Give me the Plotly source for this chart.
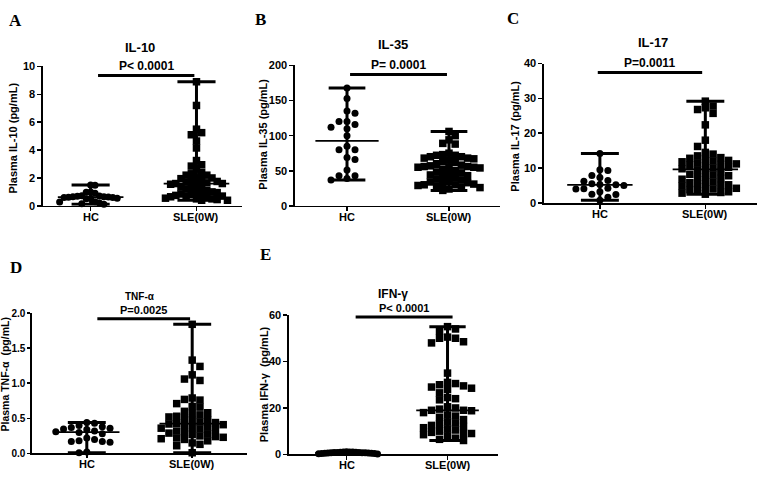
import numpy as np
import plotly.graph_objects as go

W, H = 759, 477

groups = ["HC", "SLE(0W)"]

il10_hc = [1.5, 1.48, 1.0, 0.97, 0.9, 0.72, 0.7, 0.68, 0.66, 0.65, 0.63, 0.62, 0.6, 0.6, 0.55,
           0.52, 0.5, 0.3, 0.28, 0.2, 0.15, 0.12]
il10_sle = [8.9, 7.2, 5.5, 5.25, 5.1, 4.65, 4.15, 3.25, 2.95, 2.85, 2.65, 2.4, 2.3, 2.2, 2.2, 2.0,
            2.0, 1.95, 1.9, 1.8, 1.75, 1.7, 1.65, 1.6, 1.6, 1.55, 1.5, 1.4, 1.35, 1.3, 1.2, 1.1,
            1.0, 1.0, 0.95, 0.9, 0.85, 0.8, 0.75, 0.7, 0.7, 0.65, 0.6, 0.55, 0.5, 0.5, 0.45, 0.4, 0.4]

il35_hc = [168, 153, 135, 132, 120, 120, 116, 112, 110, 100, 85, 80, 80, 69, 66, 51, 43, 43, 39, 37]
il35_sle = [106, 100, 94, 89, 88, 75, 73, 72, 72, 70, 70, 68, 68, 67, 65, 63, 62, 60, 58, 57,
            56, 56, 55, 55, 55, 54, 52, 50, 48, 47, 45, 44, 43, 42, 40, 38, 37, 35, 34, 33,
            32, 31, 30, 30, 29, 28, 27, 26, 24, 22]

il17_hc = [14.2, 9.5, 9.3, 7.9, 7.3, 6.4, 6.2, 5.5, 5.3, 5.2, 5.0, 4.2, 4.1, 4.0, 3.2, 2.5, 2.4,
           1.6, 0.8]
il17_sle = [29.2, 27.8, 27.3, 26.8, 25.7, 22.4, 18.0, 16.2, 14.5, 14.0, 13.5, 13.0, 12.8, 12.5,
            12.2, 12.0, 11.8, 11.5, 11.2, 11.0, 10.8, 10.5, 10.2, 10.0, 9.8, 9.5, 9.0, 8.5, 8.2,
            8.0, 7.8, 7.5, 7.0, 6.8, 6.5, 6.0, 5.8, 5.5, 5.2, 5.0, 4.8, 4.5, 4.2, 4.0, 3.8, 3.5,
            3.2, 3.0, 2.8, 2.5]

tnf_hc = [0.44, 0.43, 0.40, 0.38, 0.37, 0.36, 0.35, 0.34, 0.32, 0.31, 0.30, 0.28, 0.22, 0.20,
          0.18, 0.17, 0.17, 0.16, 0.02, 0.01]
tnf_sle = [1.84, 1.33, 1.24, 1.12, 1.06, 1.04, 0.79, 0.77, 0.76, 0.71, 0.67, 0.66, 0.60, 0.58,
           0.57, 0.55, 0.53, 0.52, 0.50, 0.48, 0.47, 0.45, 0.44, 0.43, 0.42, 0.41, 0.40, 0.38,
           0.37, 0.36, 0.35, 0.34, 0.32, 0.30, 0.29, 0.28, 0.27, 0.25, 0.24, 0.23, 0.22, 0.21,
           0.20, 0.18, 0.15, 0.13, 0.11, 0.01]

ifn_hc = [1.2, 1.1, 1.0, 1.0, 0.9, 0.9, 0.8, 0.8, 0.8, 0.7, 0.7, 0.7, 0.6, 0.6, 0.5, 0.5, 0.4,
          0.4, 0.3, 0.2]
ifn_sle = [55, 54, 53, 50.5, 50, 50, 48.5, 48, 35, 31, 30.5, 30, 29.5, 29, 28.5, 28, 26.5, 24.5,
           24, 23.5, 20.5, 20, 19.5, 19, 19, 18.8, 18, 17, 16.5, 16, 15, 14, 13.5, 13, 12.5, 12,
           11.5, 11, 10.5, 10, 9.5, 9, 9, 8.5, 8, 7, 6.5, 6]

p_texts = ["P< 0.0001", "P= 0.0001", "P=0.0011", "P=0.0025", "P< 0.0001"]
titles = ["IL-10", "IL-35", "IL-17", "TNF-α", "IFN-γ"]
ytitles = ["Plasma IL-10 (pg/mL)", "Plasma IL-35 (pg/mL)", "Plasma IL-17 (pg/mL)",
           "Plasma TNF-α  (pg/mL)", "Plasma IFN-γ  (pg/mL)"]
letters = ["A", "B", "C", "D", "E"]
y_ranges = [(0, 10), (0, 200), (0, 40), (0, 2), (0, 60)]
y_dticks = [2, 50, 10, 0.5, 20]
y_formats = ["d", "d", "d", ".1f", "d"]
sig_levels = [9.35, 187, 37.4, 1.92, 59.2]

data = [(il10_hc, il10_sle), (il35_hc, il35_sle), (il17_hc, il17_sle),
        (tnf_hc, tnf_sle), (ifn_hc, ifn_sle)]

# layout (pixel geometry of each panel)
geo = [
    dict(xpx=(43, 242), ypx=(62, 205), xr=(-0.45, 1.43), title=(140, 43, 13), letter=(15, 15),
         ytit=(13, 136), sigx=(0.07, 0.98), pfs=12, tfs=11, tl=4),
    dict(xpx=(295, 500), ypx=(61, 205), xr=(-0.51, 1.50), title=(393, 40, 13), letter=(260, 14),
         ytit=(263, 132), sigx=(0.03, 0.98), pfs=12, tfs=11, tl=4),
    dict(xpx=(544, 757), ypx=(59, 202), xr=(-0.53, 1.49), title=(653, 37, 13), letter=(513, 13),
         ytit=(515, 134), sigx=(-0.02, 0.97), pfs=12, tfs=11, tl=4),
    dict(xpx=(32, 247), ypx=(315, 459), xr=(-0.52, 1.52), title=(140, 298, 10), letter=(16, 268),
         ytit=(5, 378), sigx=(0.10, 0.98), pfs=11, tfs=10, tl=3),
    dict(xpx=(289, 498), ypx=(317, 460), xr=(-0.57, 1.50), title=(393, 295, 12), letter=(265, 255),
         ytit=(264, 388), sigx=(0.09, 1.05), pfs=11, tfs=11, tl=4),
]


def swarm(vals, upx, D=6.5, step=8.0, maxhalf=31.0):
    vals = np.asarray(vals, float)
    order = np.argsort(-vals)
    placed = []
    cols = np.zeros(len(vals))
    toggle = 1
    for i in order:
        y = vals[i] * upx
        k = 0
        chosen = None
        while chosen is None:
            cands = [0] if k == 0 else [toggle * k, -toggle * k]
            for c in cands:
                if all(not (pc == c and abs(py - y) < D) for pc, py in placed):
                    chosen = c
                    break
            k += 1
        if chosen != 0:
            toggle = -toggle
        placed.append((chosen, y))
        cols[i] = chosen
    m = np.max(np.abs(cols)) if len(cols) else 0
    s = step
    if m * step > maxhalf:
        s = maxhalf / m
    return cols * s


fig = go.Figure()
annotations = []
shapes = []
layout_axes = {}
font_main = "Liberation Sans"

for p in range(5):
    g = geo[p]
    xa = "x" if p == 0 else f"x{p+1}"
    ya = "y" if p == 0 else f"y{p+1}"
    xkey = "xaxis" if p == 0 else f"xaxis{p+1}"
    ykey = "yaxis" if p == 0 else f"yaxis{p+1}"
    x0, x1 = g["xpx"]
    yt, yb = g["ypx"]
    xr = g["xr"]
    yr = y_ranges[p]
    xupx = (x1 - x0) / (xr[1] - xr[0])
    yupx = (yb - yt) / (yr[1] - yr[0])

    for gi, vals in enumerate(data[p]):
        offs = swarm(vals, yupx) / xupx
        xs = gi + offs
        sym = "circle" if gi == 0 else "square"
        fig.add_trace(go.Scatter(
            x=xs, y=vals, mode="markers", xaxis=xa, yaxis=ya, showlegend=False,
            cliponaxis=False, hoverinfo="skip",
            marker=dict(symbol=sym, size=7 if gi == 0 else 7.5, color="black",
                        line=dict(width=0))))
        vmin, vmax, vmed = float(np.min(vals)), float(np.max(vals)), float(np.median(vals))
        cap = 0.18
        med = 0.31
        fig.add_trace(go.Scatter(
            x=[gi, gi, None, gi - cap, gi + cap, None, gi - cap, gi + cap],
            y=[vmin, vmax, None, vmax, vmax, None, vmin, vmin],
            mode="lines", xaxis=xa, yaxis=ya, showlegend=False, cliponaxis=False,
            hoverinfo="skip", line=dict(color="black", width=3)))
        fig.add_trace(go.Scatter(
            x=[gi - med, gi + med], y=[vmed, vmed], mode="lines", xaxis=xa, yaxis=ya,
            showlegend=False, cliponaxis=False, hoverinfo="skip",
            line=dict(color="black", width=1.8)))
        annotations.append(dict(xref=xa, yref="paper", x=gi, y=1 - yb / H,
                                xanchor="center", yanchor="top", yshift=-3, showarrow=False,
                                text="<b>" + groups[gi] + "</b>",
                                font=dict(family=font_main, size=11, color="black")))

    sx0, sx1 = g["sigx"]
    shapes.append(dict(type="line", xref=xa, yref=ya, x0=sx0, x1=sx1,
                       y0=sig_levels[p], y1=sig_levels[p],
                       line=dict(color="black", width=3)))
    annotations.append(dict(xref=xa, yref=ya, x=(sx0 + sx1) / 2, y=sig_levels[p],
                            yanchor="bottom", yshift=1, showarrow=False,
                            text="<b>" + p_texts[p] + "</b>",
                            font=dict(family=font_main, size=g["pfs"], color="black")))
    tx, ty, ts = g["title"]
    annotations.append(dict(xref="paper", yref="paper", x=tx / W, y=1 - ty / H,
                            xanchor="center", yanchor="middle", showarrow=False,
                            text="<b>" + titles[p] + "</b>",
                            font=dict(family=font_main, size=ts, color="black")))
    lx, ly = g["letter"]
    annotations.append(dict(xref="paper", yref="paper", x=lx / W, y=1 - ly / H,
                            xanchor="center", yanchor="middle", showarrow=False,
                            text="<b>" + letters[p] + "</b>",
                            font=dict(family="Liberation Serif", size=17, color="black")))
    ytx, yty = g["ytit"]
    annotations.append(dict(xref="paper", yref="paper", x=ytx / W, y=1 - yty / H,
                            xanchor="center", yanchor="middle", showarrow=False, textangle=-90,
                            text="<b>" + ytitles[p] + "</b>",
                            font=dict(family=font_main, size=10.5 if p == 3 else 11,
                                      color="black")))

    axis_common = dict(showline=True, linecolor="black", linewidth=1.6, ticks="outside",
                       ticklen=g["tl"], tickwidth=1.6, tickcolor="black", showgrid=False,
                       zeroline=False, tickfont=dict(family=font_main, size=g["tfs"],
                                                     color="black", weight="bold"))
    layout_axes[xkey] = dict(domain=[x0 / W, x1 / W], range=list(xr), anchor=ya,
                             tickmode="array", tickvals=[0, 1], showticklabels=False,
                             **axis_common)
    layout_axes[ykey] = dict(domain=[1 - yb / H, 1 - yt / H], range=list(yr), anchor=xa,
                             dtick=y_dticks[p], tick0=0, tickformat=y_formats[p],
                             **axis_common)

fig.update_layout(width=W, height=H, margin=dict(l=0, r=0, t=0, b=0),
                  plot_bgcolor="white", paper_bgcolor="white", hovermode=False,
                  annotations=annotations, shapes=shapes, **layout_axes)

fig.write_html("out.html", config={"displayModeBar": False, "staticPlot": True},
               post_script="document.body.style.margin='0';document.body.style.padding='0';"
                           "document.documentElement.style.overflow='hidden';")
